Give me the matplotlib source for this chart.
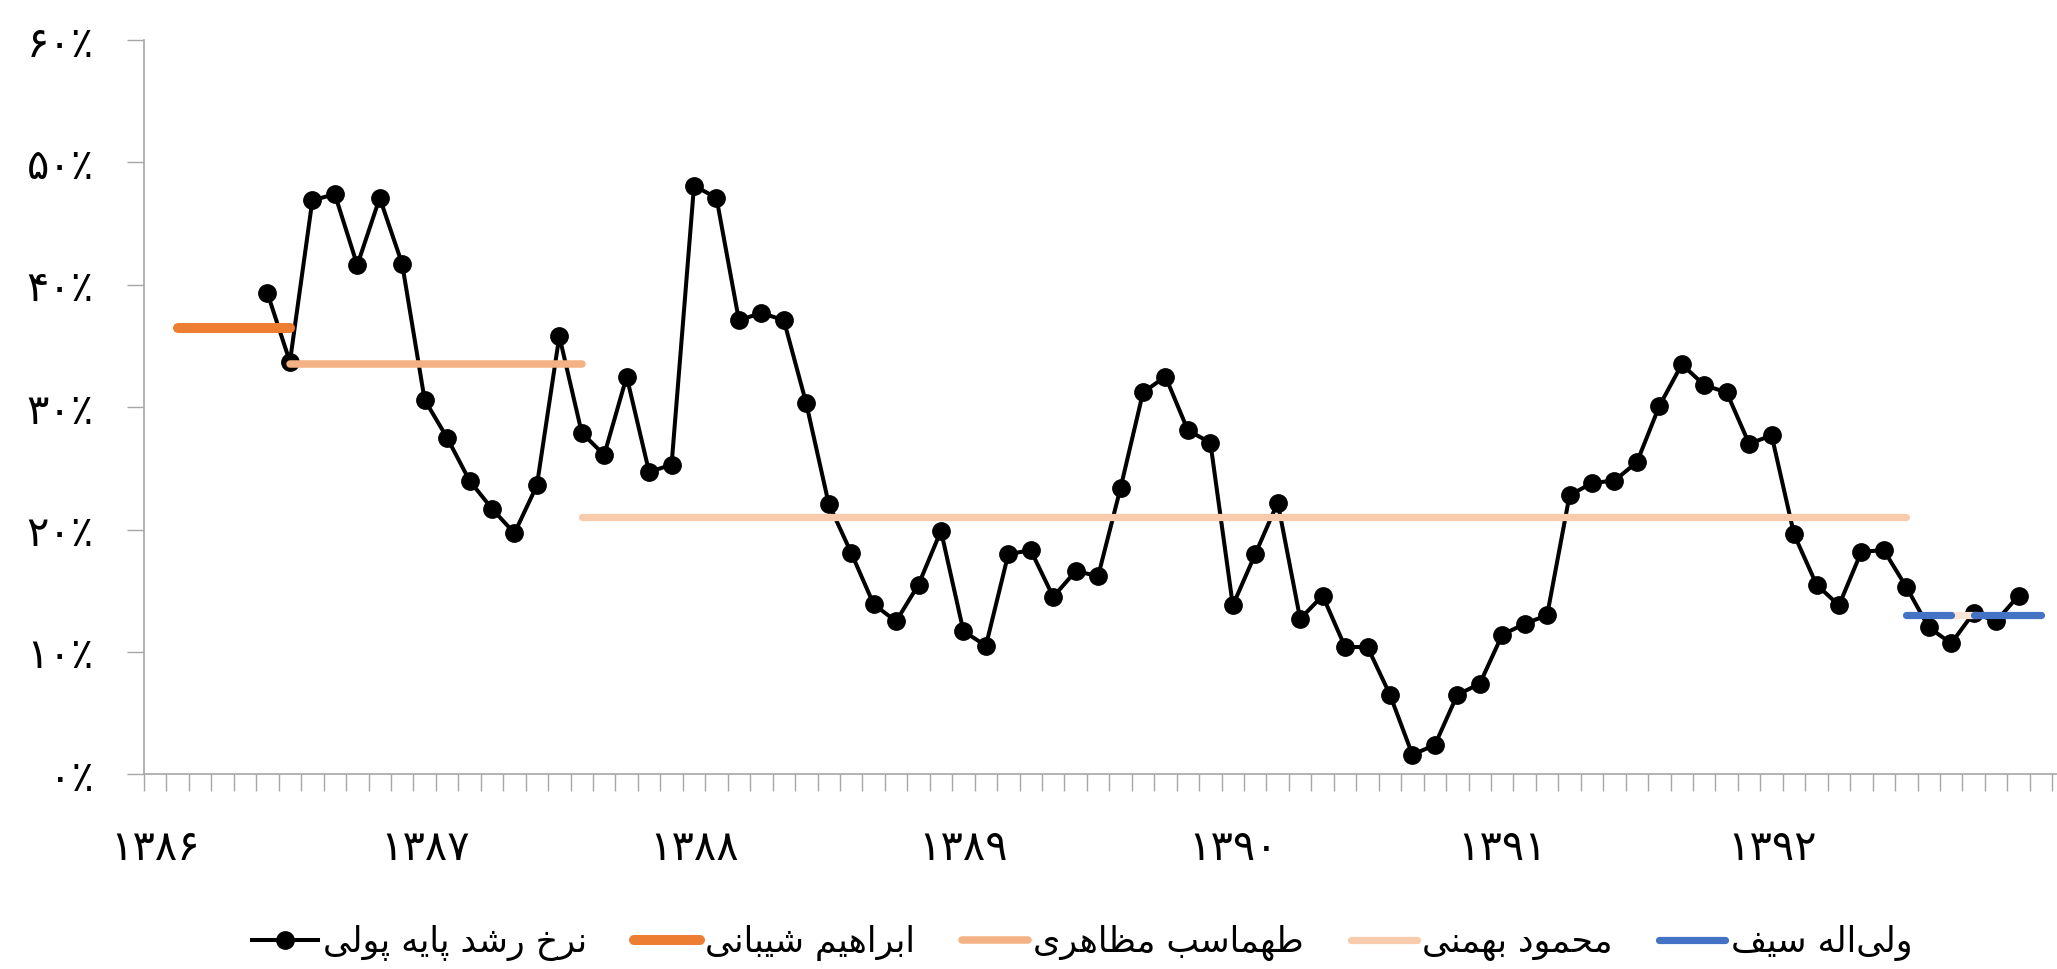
import numpy as np
import matplotlib
import matplotlib.pyplot as plt
from matplotlib.lines import Line2D

matplotlib.use('Agg')

FONT = ['DejaVu Sans']
GRAY = '#A6A6A6'

# monthly money base growth (%), month index 0 = first month of 1386
RATES = [np.nan] * 5 + [
    39.3, 33.7, 46.9, 47.4, 41.6, 47.1, 41.7, 30.6, 27.5, 24.0, 21.7, 19.7, 23.6,
    35.8, 27.9, 26.1, 32.5, 24.7, 25.3, 48.1, 47.1, 37.1, 37.7, 37.1, 30.3, 22.1,
    18.1, 13.9, 12.5, 15.5, 19.9, 11.7, 10.5, 18.0, 18.3, 14.5, 16.6, 16.2, 23.4,
    31.2, 32.5, 28.1, 27.1, 13.8, 18.0, 22.2, 12.7, 14.6, 10.4, 10.4, 6.5, 1.6,
    2.4, 6.5, 7.4, 11.4, 12.3, 13.0, 22.8, 23.8, 24.0, 25.5, 30.1, 33.5, 31.8,
    31.2, 27.0, 27.7, 19.6, 15.5, 13.8, 18.2, 18.3, 15.3, 12.0, 10.7, 13.2, 12.5,
    14.6,
]
RATE_LABEL = 'نرخ رشد پایه پولی'

GOVERNORS = ['ابراهیم شیبانی', 'طهماسب مظاهری', 'محمود بهمنی', 'ولی\u200cاله سیف']
GOV_COLORS = ['#ED7D31', '#F4B183', '#F8CBAD', '#4472C4']
GOV_WIDTHS = [7.2, 5.4, 5.2, 5.2]
GOV_LEVEL = [36.5, 33.5, 21.0, 13.0]
# tenure segments (governor index, start month, end month)
SEG_GOV = [0, 1, 2, 3, 3]
SEG_START = [1, 6, 19, 78, 81]
SEG_END = [6, 19, 78, 80, 84]
GAP_START, GAP_END, GAP_COLOR = 80, 81, '#FBE5D6'

YEARS = [1386, 1387, 1388, 1389, 1390, 1391, 1392]
Y_TICKS = [0, 10, 20, 30, 40, 50, 60]

FA_DIGITS = str.maketrans('0123456789', '۰۱۲۳۴۵۶۷۸۹')

# (isolated, final, initial, medial) presentation forms
FORMS = {
    'ا': (0xFE8D, 0xFE8E, None, None), 'آ': (0xFE81, 0xFE82, None, None),
    'ب': (0xFE8F, 0xFE90, 0xFE91, 0xFE92), 'پ': (0xFB56, 0xFB57, 0xFB58, 0xFB59),
    'ت': (0xFE95, 0xFE96, 0xFE97, 0xFE98), 'ث': (0xFE99, 0xFE9A, 0xFE9B, 0xFE9C),
    'ج': (0xFE9D, 0xFE9E, 0xFE9F, 0xFEA0), 'چ': (0xFB7A, 0xFB7B, 0xFB7C, 0xFB7D),
    'ح': (0xFEA1, 0xFEA2, 0xFEA3, 0xFEA4), 'خ': (0xFEA5, 0xFEA6, 0xFEA7, 0xFEA8),
    'د': (0xFEA9, 0xFEAA, None, None), 'ذ': (0xFEAB, 0xFEAC, None, None),
    'ر': (0xFEAD, 0xFEAE, None, None), 'ز': (0xFEAF, 0xFEB0, None, None),
    'ژ': (0xFB8A, 0xFB8B, None, None),
    'س': (0xFEB1, 0xFEB2, 0xFEB3, 0xFEB4), 'ش': (0xFEB5, 0xFEB6, 0xFEB7, 0xFEB8),
    'ص': (0xFEB9, 0xFEBA, 0xFEBB, 0xFEBC), 'ض': (0xFEBD, 0xFEBE, 0xFEBF, 0xFEC0),
    'ط': (0xFEC1, 0xFEC2, 0xFEC3, 0xFEC4), 'ظ': (0xFEC5, 0xFEC6, 0xFEC7, 0xFEC8),
    'ع': (0xFEC9, 0xFECA, 0xFECB, 0xFECC), 'غ': (0xFECD, 0xFECE, 0xFECF, 0xFED0),
    'ف': (0xFED1, 0xFED2, 0xFED3, 0xFED4), 'ق': (0xFED5, 0xFED6, 0xFED7, 0xFED8),
    'ک': (0xFB8E, 0xFB8F, 0xFB90, 0xFB91), 'گ': (0xFB92, 0xFB93, 0xFB94, 0xFB95),
    'ل': (0xFEDD, 0xFEDE, 0xFEDF, 0xFEE0), 'م': (0xFEE1, 0xFEE2, 0xFEE3, 0xFEE4),
    'ن': (0xFEE5, 0xFEE6, 0xFEE7, 0xFEE8), 'ه': (0xFEE9, 0xFEEA, 0xFEEB, 0xFEEC),
    'و': (0xFEED, 0xFEEE, None, None), 'ی': (0xFBFC, 0xFBFD, 0xFBFE, 0xFBFF),
}


def shape(text: str) -> str:
    # matplotlib has no arabic shaping: pick joined forms and reverse for LTR drawing
    out = []
    for k, c in enumerate(text):
        if c not in FORMS:
            out.append(c)
            continue
        prev = text[k - 1] if k > 0 else ''
        nxt = text[k + 1] if k + 1 < len(text) else ''
        join_prev = prev in FORMS and FORMS[prev][2] is not None
        join_next = FORMS[c][2] is not None and nxt in FORMS
        iso, fin, ini, med = FORMS[c]
        if join_prev and join_next:
            g = med
        elif join_prev:
            g = fin
        elif join_next:
            g = ini
        else:
            g = iso
        out.append(chr(g))
    return ''.join(out).replace('\u200c', '')[::-1]


def main() -> None:
    fig = plt.figure(figsize=(20.57, 9.69), dpi=100)
    ax = fig.add_axes([144 / 2057, 1 - 774.3 / 969, 1 - 144 / 2057, (774.3 - 40) / 969])

    months = np.arange(len(RATES))
    ax.plot(months, RATES, color='black', lw=2.9, marker='o', ms=12.5, zorder=3)

    for g, s, e in zip(SEG_GOV, SEG_START, SEG_END):
        ax.plot([s, e], [GOV_LEVEL[g]] * 2, color=GOV_COLORS[g], lw=GOV_WIDTHS[g],
                solid_capstyle='round', zorder=4)
    ax.plot([GAP_START, GAP_END], [GOV_LEVEL[3]] * 2, color=GAP_COLOR, lw=GOV_WIDTHS[3], zorder=3.5)

    ax.set_xlim(-0.5, -0.5 + (2057 - 144) / 22.45)
    ax.set_ylim(0, 60)

    for side in ['top', 'right']:
        ax.spines[side].set_visible(False)
    for side in ['left', 'bottom']:
        ax.spines[side].set_color(GRAY)
        ax.spines[side].set_linewidth(1.2)

    ax.set_yticks(Y_TICKS)
    ax.set_yticklabels([(str(v) + '٪').translate(FA_DIGITS) for v in Y_TICKS], family=FONT, fontsize=30)
    ax.tick_params(axis='y', length=12, width=1, color=GRAY, pad=24)

    ax.set_xticks([12 * k for k in range(len(YEARS))])
    ax.set_xticklabels([str(y).translate(FA_DIGITS) for y in YEARS], family=FONT, fontsize=30)
    ax.set_xticks(np.arange(-0.5, 85, 1), minor=True)
    ax.tick_params(axis='x', which='major', length=0, pad=38)
    ax.tick_params(axis='x', which='minor', length=12, width=1, color=GRAY)

    handles = [Line2D([], [], color='black', lw=2.9, marker='o', ms=12.5)]
    handles += [Line2D([], [], color=c, lw=w, solid_capstyle='round') for c, w in zip(GOV_COLORS, GOV_WIDTHS)]
    labels = [shape(RATE_LABEL)] + [shape(n) for n in GOVERNORS]
    fig.legend(handles, labels, loc='center', bbox_to_anchor=(0.526, 0.027), ncol=5, frameon=False,
               prop={'family': FONT, 'size': 25}, handlelength=1.9, handletextpad=0.15, columnspacing=1.35)

    fig.savefig('out.png', dpi=100)
    plt.close(fig)


if __name__ == '__main__':
    main()
